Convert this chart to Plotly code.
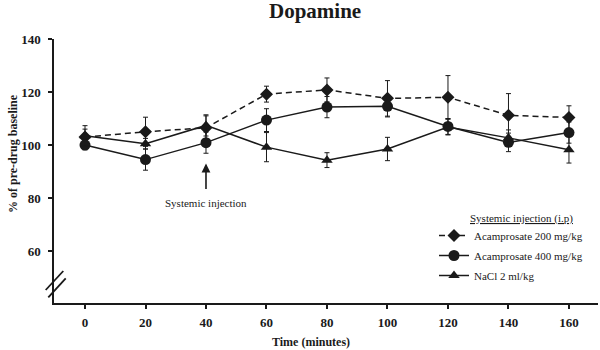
import plotly.graph_objects as go

time_min = [0, 20, 40, 60, 80, 100, 120, 140, 160]
acam200 = [103, 105, 106.5, 119.2, 120.8, 117.6, 118, 111.2, 110.4]
acam200_err = [3, 5.5, 4.5, 3, 4.5, 6.7, 8.2, 8.2, 4.4]
acam400 = [100, 94.5, 100.9, 109.4, 114.3, 114.6, 107, 101, 104.7]
acam400_err = [1.8, 4, 4, 4.3, 4, 4, 3, 3.5, 4]
nacl = [103.5, 100.5, 107.4, 99.2, 94.3, 98.5, 106.8, 102.7, 98.2]
nacl_err = [3.8, 2, 4, 5.5, 2.8, 4.4, 3, 3, 5]
x_ticks = [0, 20, 40, 60, 80, 100, 120, 140, 160]
y_ticks = [60, 80, 100, 120, 140]

SERIF = "Liberation Serif"
INK = "#1a1a1a"

fig = go.Figure()

def add(name, y, err, symbol, size, dash, group):
    fig.add_trace(go.Scatter(
        x=time_min, y=y, name=name, mode="lines+markers", legendgroup=group,
        line=dict(color=INK, width=1.5, dash=dash),
        marker=dict(symbol=symbol, size=size, color=INK),
        error_y=dict(type="data", array=err, visible=True, color=INK,
                     thickness=1, width=2.5),
    ))

add("Acamprosate 200 mg/kg", acam200, acam200_err, "diamond", 10, "6px,4px", "a")
add("Acamprosate 400 mg/kg", acam400, acam400_err, "circle", 11, "solid", "b")
add("NaCl 2 ml/kg", nacl, nacl_err, "triangle-up", 10, "solid", "c")

W, H = 600, 350
L, R, T, B = 54, 2, 39, 47
pw, ph = W - L - R, H - T - B

def px(x):
    return (x - L) / pw

def py(y):
    return (H - B - y) / ph

fig.update_layout(
    width=W, height=H,
    margin=dict(l=L, r=R, t=T, b=B),
    paper_bgcolor="white", plot_bgcolor="white",
    font=dict(family=SERIF, color=INK),
    showlegend=True,
    legend=dict(
        x=px(434), y=py(221), xanchor="left", yanchor="top",
        font=dict(family=SERIF, size=11, color=INK),
        bgcolor="rgba(0,0,0,0)", itemwidth=30,
        traceorder="grouped", tracegroupgap=1,
    ),
    xaxis=dict(
        range=[-10.25, 169.6], tickvals=x_ticks, ticks="outside", ticklen=4,
        tickwidth=1.5, tickcolor=INK,
        showline=True, linecolor=INK, linewidth=1.5, showgrid=False,
        zeroline=False, ticklabelstandoff=3,
        tickfont=dict(family=SERIF, size=13, weight="bold", color=INK),
    ),
    yaxis=dict(
        range=[40.4, 140], tickvals=y_ticks, ticks="outside", ticklen=4,
        tickwidth=1.5, tickcolor=INK,
        showline=True, linecolor=INK, linewidth=1.5, showgrid=False,
        zeroline=False, ticklabelstandoff=5,
        tickfont=dict(family=SERIF, size=13, weight="bold", color=INK),
    ),
)

annotations = [
    dict(text="<b>Dopamine</b>", xref="paper", yref="paper",
         x=px(315), y=py(11), xanchor="center", yanchor="middle",
         showarrow=False, font=dict(family=SERIF, size=21, color=INK)),
    dict(text="<b>% of pre-drug baseline</b>", xref="paper", yref="paper",
         x=px(13), y=py(154), xanchor="center", yanchor="middle",
         textangle=-90, showarrow=False,
         font=dict(family=SERIF, size=12, color=INK)),
    dict(text="<b>Time (minutes)</b>", xref="paper", yref="paper",
         x=px(311), y=py(342), xanchor="center", yanchor="middle",
         showarrow=False, font=dict(family=SERIF, size=12, color=INK)),
    dict(text="<u>Systemic injection (i.p)</u>", xref="paper", yref="paper",
         x=px(521), y=py(218), xanchor="center", yanchor="middle",
         showarrow=False, font=dict(family=SERIF, size=11, color=INK)),
    dict(text="Systemic injection", xref="x", yref="y",
         x=40, y=93, ax=0, ay=39, axref="pixel", ayref="pixel",
         showarrow=True, arrowhead=2, arrowsize=1.1, arrowwidth=1.6,
         arrowcolor=INK, startstandoff=6,
         font=dict(family=SERIF, size=11, color=INK)),
]
fig.update_layout(annotations=annotations)

shapes = [
    dict(type="line", xref="paper", yref="paper",
         x0=px(45.7), y0=py(290), x1=px(63.3), y1=py(271),
         line=dict(color=INK, width=1.8)),
    dict(type="line", xref="paper", yref="paper",
         x0=px(48.3), y0=py(297.3), x1=px(65.7), y1=py(278.3),
         line=dict(color=INK, width=1.8)),
]
fig.update_layout(shapes=shapes)

fig.write_html("out.html")
